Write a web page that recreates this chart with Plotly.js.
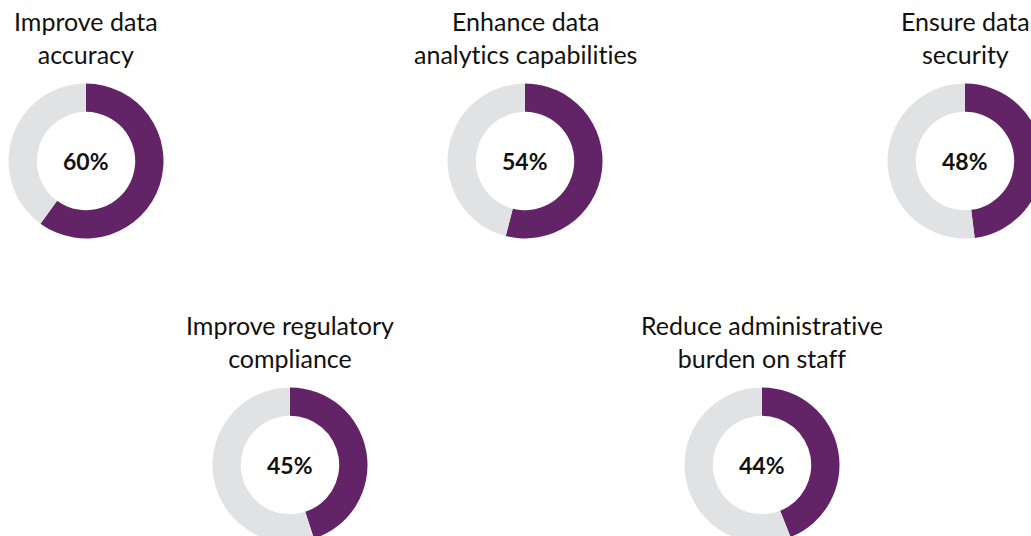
<!DOCTYPE html>
<html>
<head>
<meta charset="utf-8">
<script src="https://cdn.plot.ly/plotly-3.0.1.min.js"></script>
<style>
html,body{margin:0;padding:0;overflow:hidden;background:#fff;}
#chart{width:1100px;height:600px;}
svg text, svg tspan{font-variant-ligatures:none !important;font-feature-settings:"liga" 0,"clig" 0,"dlig" 0 !important;}
</style>
</head>
<body>
<div id="chart"></div>
<script>
// Data
var categories = [
  "Improve data<br>accuracy",
  "Enhance data<br>analytics capabilities",
  "Ensure data<br>security",
  "Improve regulatory<br>compliance",
  "Reduce administrative<br>burden on staff"
];
var percentValues = [60, 54, 48, 45, 44];

// Layout (pixel positions of donut centres)
var W = 1100, H = 600;
var centers = [[86,161],[525,161],[965,161],[290,465],[762,465]];
var R = 77.5;
var purple = "#622466", grey = "#e1e2e4";
var fontFam = "Lato, 'Open Sans', sans-serif";

var data = [], annotations = [];
for (var i = 0; i < categories.length; i++) {
  var cx = centers[i][0], cy = centers[i][1];
  data.push({
    type: "pie",
    values: [percentValues[i], 100 - percentValues[i]],
    labels: ["Yes", "Other"],
    hole: 0.635,
    sort: false,
    direction: "clockwise",
    rotation: 0,
    textinfo: "none",
    hoverinfo: "none",
    showlegend: false,
    marker: {colors: [purple, grey], line: {width: 0}},
    domain: {x: [(cx - R) / W, (cx + R) / W], y: [1 - (cy + R) / H, 1 - (cy - R) / H]}
  });
  annotations.push({
    x: cx / W, y: 1 - cy / H, xref: "paper", yref: "paper",
    text: "<b>" + percentValues[i] + "%</b>", showarrow: false,
    font: {family: fontFam, size: 23, color: "#111"},
    xanchor: "center", yanchor: "middle"
  });
  annotations.push({
    x: cx / W, y: 1 - (cy - 90) / H, xref: "paper", yref: "paper",
    text: categories[i], showarrow: false,
    font: {family: fontFam, size: 25, color: "#111"},
    xanchor: "center", yanchor: "bottom", align: "center"
  });
}

var layout = {
  width: W, height: H,
  margin: {l: 0, r: 0, t: 0, b: 0},
  paper_bgcolor: "#fff",
  annotations: annotations
};
Plotly.newPlot("chart", data, layout, {displayModeBar: false, staticPlot: true});
</script>
</body>
</html>
